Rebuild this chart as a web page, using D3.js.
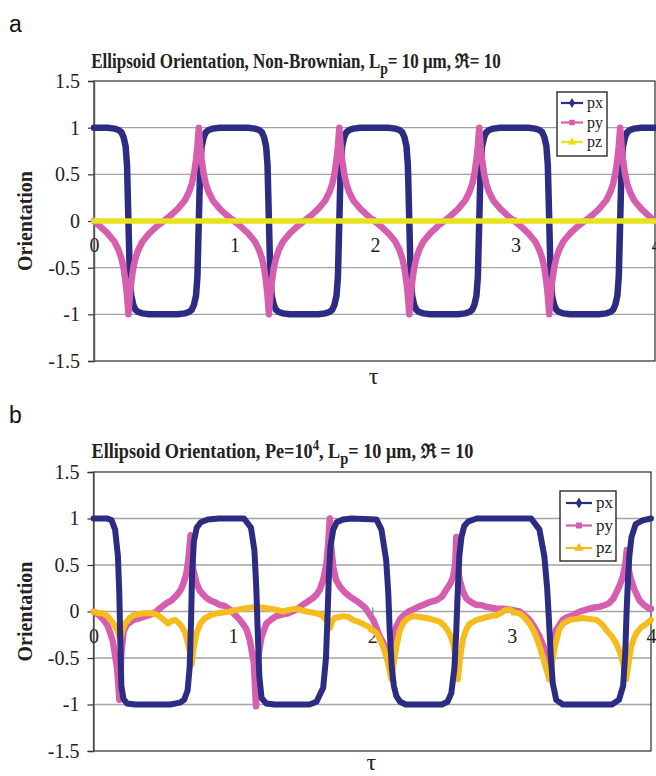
<!DOCTYPE html>
<html>
<head>
<meta charset="utf-8">
<script src="https://cdn.jsdelivr.net/npm/d3@7"></script>
<style>
  html, body { margin: 0; padding: 0; background: #fff; }
  svg { display: block; }
</style>
</head>
<body>
<script>
// ---------------- DATA ----------------
const yTicks = [-1.5, -1, -0.5, 0, 0.5, 1, 1.5];
const xTicks = [0, 1, 2, 3, 4];
const seriesNames = ["px", "py", "pz"];

// Panel a: Non-Brownian
const tauA = [
  0,
  0.045,0.095,0.145,0.175,0.195,0.21,0.225,0.235,0.245,0.255,0.265,0.28,0.295,0.315,0.345,0.395,0.445,
  0.496,
  0.546,0.596,0.646,0.676,0.696,0.711,0.726,0.736,0.746,0.756,0.766,0.781,0.796,0.816,0.846,0.896,0.946,
  0.996,
  1.045,1.095,1.145,1.175,1.195,1.21,1.225,1.235,1.245,1.255,1.265,1.28,1.295,1.315,1.345,1.395,1.445,
  1.496,
  1.546,1.596,1.646,1.676,1.696,1.711,1.726,1.736,1.746,1.756,1.766,1.781,1.796,1.816,1.846,1.896,1.946,
  1.995,
  2.044,2.094,2.144,2.174,2.194,2.209,2.224,2.234,2.244,2.254,2.264,2.279,2.294,2.314,2.344,2.394,2.444,
  2.493,
  2.542,2.592,2.642,2.672,2.692,2.707,2.722,2.732,2.742,2.752,2.762,2.777,2.792,2.812,2.842,2.892,2.942,
  2.991,
  3.04,3.09,3.14,3.17,3.19,3.205,3.22,3.23,3.24,3.25,3.26,3.275,3.29,3.31,3.34,3.39,3.44,
  3.493,
  3.545,3.595,3.645,3.675,3.695,3.71,3.725,3.735,3.745,3.755,3.765,3.78,3.795,3.815,3.845,3.895,3.945,
  4.0
];
const pxA = [
  1,
  1,1,0.99,0.975,0.95,0.9,0.8,0.6,0,-0.6,-0.8,-0.9,-0.95,-0.975,-0.99,-1,-1,
  -1,
  -1,-1,-0.99,-0.975,-0.95,-0.9,-0.8,-0.6,0,0.6,0.8,0.9,0.95,0.975,0.99,1,1,
  1,
  1,1,0.99,0.975,0.95,0.9,0.8,0.6,0,-0.6,-0.8,-0.9,-0.95,-0.975,-0.99,-1,-1,
  -1,
  -1,-1,-0.99,-0.975,-0.95,-0.9,-0.8,-0.6,0,0.6,0.8,0.9,0.95,0.975,0.99,1,1,
  1,
  1,1,0.99,0.975,0.95,0.9,0.8,0.6,0,-0.6,-0.8,-0.9,-0.95,-0.975,-0.99,-1,-1,
  -1,
  -1,-1,-0.99,-0.975,-0.95,-0.9,-0.8,-0.6,0,0.6,0.8,0.9,0.95,0.975,0.99,1,1,
  1,
  1,1,0.99,0.975,0.95,0.9,0.8,0.6,0,-0.6,-0.8,-0.9,-0.95,-0.975,-0.99,-1,-1,
  -1,
  -1,-1,-0.99,-0.975,-0.95,-0.9,-0.8,-0.6,0,0.6,0.8,0.9,0.95,0.975,0.99,1,1,
  1
];
const pyA = [
  0,
  -0.06,-0.13,-0.22,-0.31,-0.4,-0.5,-0.66,-0.8,-1,-0.8,-0.66,-0.5,-0.4,-0.31,-0.22,-0.13,-0.06,
  0,
  0.06,0.13,0.22,0.31,0.4,0.5,0.66,0.8,1,0.8,0.66,0.5,0.4,0.31,0.22,0.13,0.06,
  0,
  -0.06,-0.13,-0.22,-0.31,-0.4,-0.5,-0.66,-0.8,-1,-0.8,-0.66,-0.5,-0.4,-0.31,-0.22,-0.13,-0.06,
  0,
  0.06,0.13,0.22,0.31,0.4,0.5,0.66,0.8,1,0.8,0.66,0.5,0.4,0.31,0.22,0.13,0.06,
  0,
  -0.06,-0.13,-0.22,-0.31,-0.4,-0.5,-0.66,-0.8,-1,-0.8,-0.66,-0.5,-0.4,-0.31,-0.22,-0.13,-0.06,
  0,
  0.06,0.13,0.22,0.31,0.4,0.5,0.66,0.8,1,0.8,0.66,0.5,0.4,0.31,0.22,0.13,0.06,
  0,
  -0.06,-0.13,-0.22,-0.31,-0.4,-0.5,-0.66,-0.8,-1,-0.8,-0.66,-0.5,-0.4,-0.31,-0.22,-0.13,-0.06,
  0,
  0.06,0.13,0.22,0.31,0.4,0.5,0.66,0.8,1,0.8,0.66,0.5,0.4,0.31,0.22,0.13,0.06,
  -0.01
];
const tauPzA = [0, 1, 2, 3, 4];
const pzA = [0, 0, 0, 0, 0];

// Panel b: Pe = 10^4
const tauPxB = [
  0,0.1,0.13,0.155,0.175,0.185,0.192,0.2,0.215,0.24,0.3,
  0.55,0.62,0.65,0.675,0.69,0.70,0.707,0.72,0.74,0.77,0.82,0.9,
  1.08,1.13,1.155,1.168,1.178,1.19,1.206,1.24,1.3,
  1.55,1.6,1.648,1.668,1.678,1.688,1.7,1.72,1.745,1.79,1.85,
  2.03,2.066,2.1,2.115,2.125,2.14,2.155,2.173,2.2,2.24,
  2.5,2.54,2.567,2.59,2.603,2.613,2.625,2.64,2.66,2.69,2.75,
  3.14,3.2,3.235,3.255,3.268,3.28,3.295,3.32,3.367,
  3.72,3.77,3.8,3.815,3.825,3.835,3.845,3.86,3.89,3.94,4.0
];
const pxB = [
  1,1,0.98,0.88,0.6,0.2,-0.3,-0.8,-0.94,-0.99,-1,
  -1,-0.98,-0.95,-0.85,-0.6,-0.1,0.4,0.75,0.9,0.96,0.99,1,
  1,0.9,0.65,0.25,-0.2,-0.7,-0.93,-0.99,-1,
  -1,-0.97,-0.82,-0.5,-0.1,0.35,0.7,0.88,0.96,0.99,1,
  0.99,0.88,0.55,0.2,-0.2,-0.6,-0.8,-0.91,-0.97,-1,
  -1,-0.97,-0.88,-0.6,-0.2,0.2,0.6,0.8,0.92,0.97,1,
  1,0.88,0.59,0.25,-0.1,-0.45,-0.77,-0.95,-1,
  -1,-0.95,-0.8,-0.45,0,0.35,0.6,0.8,0.94,0.98,1
];
const tauPyB = [
  0,0.04,0.072,0.1,0.12,0.14,0.155,0.17,0.186,0.2,0.215,0.24,0.287,0.335,0.40,0.45,0.49,0.525,0.56,0.6,
  0.625,0.645,0.665,0.68,0.697,0.705,0.716,0.74,0.764,0.8,0.836,0.87,0.907,0.94,0.98,
  1.0,1.05,1.08,1.10,1.12,1.13,1.15,1.166,1.18,1.206,1.24,1.28,1.31,1.36,1.397,1.457,1.49,1.53,1.57,1.6,
  1.625,1.648,1.67,1.683,1.695,1.705,1.72,1.74,1.767,1.8,1.84,1.87,1.91,1.95,1.98,
  2.01,2.054,2.08,2.10,2.115,2.13,2.145,2.173,2.2,2.22,2.26,2.29,2.33,2.364,2.41,2.46,2.5,2.53,2.56,2.58,
  2.595,2.603,2.615,2.627,2.65,2.675,2.71,2.747,2.78,2.82,2.86,2.89,2.94,2.99,
  3.057,3.1,3.128,3.16,3.2,3.23,3.247,3.265,3.277,3.29,3.32,3.367,3.4,3.44,3.49,3.535,3.58,3.63,3.67,3.7,
  3.73,3.75,3.775,3.797,3.815,3.826,3.84,3.857,3.88,3.917,3.95,3.99,4.0
];
const pyB = [
  0,-0.04,-0.09,-0.15,-0.23,-0.33,-0.47,-0.62,-0.95,-0.45,-0.22,-0.14,-0.09,-0.07,-0.04,0,0.05,0.09,0.12,0.18,
  0.23,0.3,0.4,0.55,0.82,0.6,0.45,0.3,0.22,0.16,0.12,0.1,0.07,0.06,0.02,
  -0.01,-0.09,-0.15,-0.2,-0.3,-0.38,-0.55,-1.02,-0.5,-0.27,-0.13,-0.08,-0.05,-0.03,-0.02,0.02,0.06,0.1,0.14,0.18,
  0.24,0.34,0.5,0.7,1.0,0.7,0.48,0.34,0.27,0.21,0.16,0.13,0.09,0.04,-0.03,
  -0.1,-0.27,-0.34,-0.41,-0.5,-0.65,-0.35,-0.16,-0.08,-0.05,0,0.02,0.05,0.07,0.1,0.12,0.16,0.23,0.3,0.37,
  0.5,0.8,0.45,0.34,0.22,0.14,0.1,0.07,0.07,0.05,0.04,0.03,0.03,0.02,
  0,-0.05,-0.09,-0.16,-0.27,-0.38,-0.45,-0.52,-0.6,-0.35,-0.2,-0.09,-0.06,-0.04,0,0.02,0.04,0.05,0.07,0.09,
  0.14,0.2,0.28,0.37,0.5,0.66,0.45,0.34,0.24,0.12,0.07,0.03,0.03
];
const tauPzB = [
  0,0.04,0.07,0.1,0.143,0.17,0.19,0.205,0.227,0.26,0.287,0.32,0.36,0.43,0.46,0.49,0.535,0.56,0.585,0.61,
  0.633,0.655,0.67,0.69,0.704,0.72,0.74,0.77,0.8,0.84,0.883,0.93,0.98,
  1.03,1.075,1.12,1.17,1.22,1.265,1.31,1.36,1.41,1.457,1.5,1.53,1.6,1.64,1.67,1.695,1.715,1.73,1.79,1.83,
  1.86,1.9,1.93,1.97,2.0,2.03,2.055,2.078,2.1,2.114,2.137,2.155,2.173,2.195,2.22,2.25,2.29,2.34,2.39,2.44,
  2.485,2.515,2.54,2.56,2.58,2.6,2.614,2.63,2.65,2.675,2.7,2.75,2.8,2.85,2.89,2.93,2.96,2.99,
  3.02,3.057,3.09,3.128,3.155,3.176,3.2,3.224,3.245,3.27,3.29,3.31,3.34,3.37,3.416,3.46,3.51,3.56,3.61,
  3.65,3.68,3.72,3.75,3.78,3.8,3.822,3.84,3.857,3.88,3.9,3.93,3.96,4.0
];
const pzB = [
  0,-0.02,-0.02,-0.05,-0.13,-0.2,-0.29,-0.22,-0.13,-0.07,-0.04,-0.03,-0.02,-0.02,-0.04,-0.07,-0.13,-0.1,-0.09,-0.12,
  -0.16,-0.22,-0.3,-0.42,-0.57,-0.38,-0.23,-0.12,-0.07,-0.04,-0.02,-0.01,0,
  0.02,0.03,0.04,0.05,0.04,0.03,0.02,0,0.02,0.03,0.01,0,-0.02,-0.04,-0.09,-0.18,-0.1,-0.07,-0.05,-0.06,
  -0.09,-0.11,-0.13,-0.16,-0.2,-0.23,-0.3,-0.38,-0.48,-0.56,-0.73,-0.55,-0.38,-0.22,-0.13,-0.08,-0.05,-0.06,-0.07,-0.09,
  -0.11,-0.15,-0.2,-0.26,-0.34,-0.5,-0.73,-0.5,-0.3,-0.19,-0.13,-0.09,-0.07,-0.05,-0.04,-0.01,0.02,0.02,
  -0.01,-0.02,-0.06,-0.13,-0.2,-0.27,-0.37,-0.49,-0.6,-0.73,-0.55,-0.38,-0.2,-0.13,-0.09,-0.08,-0.07,-0.08,-0.09,
  -0.14,-0.2,-0.27,-0.34,-0.45,-0.56,-0.73,-0.55,-0.38,-0.28,-0.22,-0.17,-0.14,-0.09
];

// ---------------- DRAWING ----------------
const W = 656, H = 776;
const SERIF = "'Liberation Serif','Times New Roman',Times,serif";
const SANS = "'Liberation Sans',Arial,Helvetica,sans-serif";
const colPx = "#2b2c82", colPy = "#d55fae", colPzA = "#e8e21c", colPzB = "#f6bb1c";

const svg = d3.select("body").append("svg").attr("width", W).attr("height", H)
  .style("background", "#fff");

function zipData(t, v) { return t.map((d, i) => ({ t: d, v: v[i] })); }

function drawPanel(cfg) {
  const g = svg.append("g");
  const x = d3.scaleLinear().domain([0, 4]).range([cfg.left, cfg.xEnd]);
  const y = d3.scaleLinear().domain([-1.5, 1.5]).range([cfg.bottom, cfg.top]);

  // panel letter
  g.append("text").attr("x", 9).attr("y", cfg.letterY)
    .attr("font-family", SANS).attr("font-size", 23).attr("fill", "#111")
    .text(cfg.letter);

  // title
  const tg = g.append("g").attr("transform", `translate(${cfg.titleX},${cfg.titleY}) scale(${cfg.titleScale},1)`);
  const tt = tg.append("text").attr("text-anchor", "middle")
    .attr("font-family", SERIF).attr("font-weight", "bold").attr("font-size", 20).attr("fill", "#222");
  cfg.titleParts.forEach(p => {
    const ts = tt.append("tspan").text(p.s);
    if (p.dy) ts.attr("dy", p.dy);
    if (p.fs) ts.attr("font-size", p.fs);
  });

  // gridlines
  g.append("g").selectAll("line").data(yTicks.filter(v => v > -1.5 && v < 1.5)).join("line")
    .attr("x1", cfg.left).attr("x2", cfg.right)
    .attr("y1", d => y(d)).attr("y2", d => y(d))
    .attr("stroke", "#a3a3a3").attr("stroke-width", 1.4);

  // plot frame
  g.append("rect").attr("x", cfg.left).attr("y", cfg.top)
    .attr("width", cfg.right - cfg.left).attr("height", cfg.bottom - cfg.top)
    .attr("fill", "none").attr("stroke", "#2a2a2a").attr("stroke-width", 1.2);

  // y axis
  const yAxis = d3.axisLeft(y).tickValues(yTicks).tickSize(6).tickPadding(8)
    .tickFormat(d => String(d));
  const ya = g.append("g").attr("transform", `translate(${cfg.left},0)`).call(yAxis);
  ya.select(".domain").attr("stroke", "#555").attr("stroke-width", 1.4);
  ya.selectAll(".tick line").attr("stroke", "#333").attr("stroke-width", 1.2);
  ya.selectAll(".tick text").attr("font-family", SERIF).attr("font-size", 20).attr("fill", "#222");

  // x axis at zero
  const xAxis = d3.axisBottom(x).tickValues(xTicks).tickSize(0).tickPadding(0)
    .tickFormat(d => String(d));
  const xa = g.append("g").attr("transform", `translate(0,${y(0)})`).call(xAxis);
  xa.select(".domain").remove();
  xa.selectAll(".tick text").attr("font-family", SERIF).attr("font-size", 20).attr("fill", "#222")
    .attr("dy", null).attr("y", 31);
  xa.selectAll(".tick").append("line").attr("y1", -4).attr("y2", 4)
    .attr("stroke", "#888").attr("stroke-width", 1.2);

  // axis titles
  g.append("text").attr("transform", `translate(32,${y(0)}) rotate(-90)`)
    .attr("text-anchor", "middle").attr("font-family", SERIF).attr("font-weight", "bold")
    .attr("font-size", 20).attr("fill", "#222").text("Orientation");
  g.append("text").attr("x", (cfg.left + cfg.right) / 2 - 1).attr("y", cfg.tauY)
    .attr("text-anchor", "middle").attr("font-family", SERIF)
    .attr("font-size", 24).attr("fill", "#222").text("τ");

  // series
  const line = d3.line().x(d => x(d.t)).y(d => y(d.v)).curve(d3.curveLinear);
  const clipId = "clip" + cfg.letter;
  g.append("clipPath").attr("id", clipId).append("rect")
    .attr("x", cfg.left - 4).attr("y", cfg.top).attr("width", cfg.right - cfg.left + 8)
    .attr("height", cfg.bottom - cfg.top);
  const sg = g.append("g").attr("clip-path", `url(#${clipId})`);
  cfg.series.forEach(s => {
    sg.append("path").datum(zipData(s.t, s.v)).attr("d", line)
      .attr("fill", "none").attr("stroke", s.color).attr("stroke-width", s.width)
      .attr("stroke-linejoin", "round").attr("stroke-linecap", "round");
  });

  // legend
  const L = cfg.legend;
  const lg = g.append("g");
  lg.append("rect").attr("x", L.x).attr("y", L.y).attr("width", L.w).attr("height", L.h)
    .attr("fill", "#fff").attr("stroke", "#1a1a1a").attr("stroke-width", 1.3);
  cfg.legendOrder.forEach((s, i) => {
    const cy = L.y + L.first + i * L.step;
    lg.append("line").attr("x1", L.x + L.pad).attr("x2", L.x + L.pad + L.len)
      .attr("y1", cy).attr("y2", cy).attr("stroke", s.color).attr("stroke-width", 2.2);
    const mx = L.x + L.pad + L.len / 2;
    const sym = d3.symbol().type(s.sym).size(s.symSize);
    lg.append("path").attr("d", sym()).attr("transform", `translate(${mx},${cy})`)
      .attr("fill", s.color);
    lg.append("text").attr("x", L.x + L.pad + L.len + 4).attr("y", cy + 5)
      .attr("font-family", SERIF).attr("font-size", L.fs).attr("fill", "#222").text(s.name);
  });
}

drawPanel({
  letter: "a", letterY: 32,
  left: 94, xEnd: 656, right: 655, top: 81, bottom: 361,
  titleX: 296, titleY: 68, titleScale: 0.85,
  titleParts: [
    { s: "Ellipsoid Orientation, Non-Brownian, L" },
    { s: "p", dy: 6, fs: 16 },
    { s: "= 10 μm, ℜ= 10", dy: -6 }
  ],
  tauY: 384,
  series: [
    { t: tauA, v: pxA, color: colPx, width: 6.5 },
    { t: tauA, v: pyA, color: colPy, width: 6.5 },
    { t: tauPzA, v: pzA, color: colPzA, width: 5.5 }
  ],
  legend: { x: 557, y: 92, w: 50, h: 64, first: 11, step: 19.5, pad: 4, len: 22, fs: 16 },
  legendOrder: [
    { name: seriesNames[0], color: colPx, sym: d3.symbolDiamond, symSize: 30 },
    { name: seriesNames[1], color: colPy, sym: d3.symbolSquare, symSize: 30 },
    { name: seriesNames[2], color: colPzA, sym: d3.symbolTriangle, symSize: 30 }
  ]
});

drawPanel({
  letter: "b", letterY: 423,
  left: 93.5, xEnd: 651, right: 651, top: 472, bottom: 751,
  titleX: 282.5, titleY: 458, titleScale: 0.91,
  titleParts: [
    { s: "Ellipsoid Orientation, Pe=10" },
    { s: "4", dy: -8, fs: 14 },
    { s: ", L", dy: 8 },
    { s: "p", dy: 6, fs: 16 },
    { s: "= 10 μm, ℜ = 10", dy: -6 }
  ],
  tauY: 770,
  series: [
    { t: tauPyB, v: pyB, color: colPy, width: 6.5 },
    { t: tauPzB, v: pzB, color: colPzB, width: 6 },
    { t: tauPxB, v: pxB, color: colPx, width: 6 }
  ],
  legend: { x: 560, y: 491, w: 56, h: 70, first: 12, step: 22.5, pad: 6, len: 26, fs: 17 },
  legendOrder: [
    { name: seriesNames[0], color: colPx, sym: d3.symbolDiamond, symSize: 36 },
    { name: seriesNames[1], color: colPy, sym: d3.symbolSquare, symSize: 36 },
    { name: seriesNames[2], color: colPzB, sym: d3.symbolTriangle, symSize: 36 }
  ]
});
</script>
</body>
</html>
